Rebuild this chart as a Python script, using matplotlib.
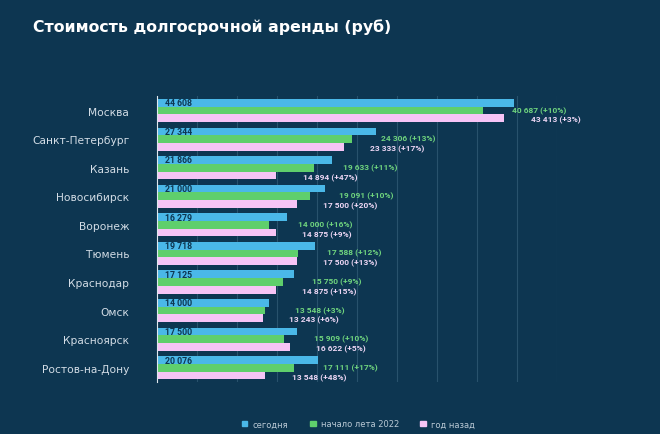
import matplotlib
matplotlib.use("Agg")
import matplotlib.pyplot as plt
import numpy as np
from matplotlib.patches import Patch

cities = ['Москва', 'Санкт-Петербург', 'Казань', 'Новосибирск', 'Воронеж',
          'Тюмень', 'Краснодар', 'Омск', 'Красноярск', 'Ростов-на-Дону']
today = [44608, 27344, 21866, 21000, 16279, 19718, 17125, 14000, 17500, 20076]
summer = [40687, 24306, 19633, 19091, 14000, 17588, 15750, 13548, 15909, 17111]
summer_pct = [10, 13, 11, 10, 16, 12, 9, 3, 10, 17]
year_ago = [43413, 23333, 14894, 17500, 14875, 17500, 14875, 13243, 16622, 13548]
year_pct = [3, 17, 47, 20, 9, 13, 15, 6, 5, 48]
series_names = ['сегодня', 'начало лета 2022', 'год назад']
title = 'Стоимость долгосрочной аренды (руб)'

BG = '#0d3651'
BLUE = '#4ab8e8'
GREEN = '#5fcf6c'
PINK = '#f6c4f6'
GREEN_TXT = '#6fd47e'
PINK_TXT = '#ecd6f4'
LABEL = '#d3dde6'

plt.rcParams['font.family'] = ['DejaVu Sans']
VAL_FONT = ['Roboto', 'DejaVu Sans']

def fmt(v):
    return f'{v:,}'.replace(',', ' ')

fig = plt.figure(figsize=(6.6, 4.35), dpi=100, facecolor=BG)
ax = fig.add_axes([0.238, 0.1195, 0.606, 0.657], facecolor=BG)

y = np.arange(len(cities))
h = 0.27
ax.barh(y - h, today, height=h, color=BLUE, zorder=3)
ax.barh(y, summer, height=h, color=GREEN, zorder=3)
ax.barh(y + h, year_ago, height=h, color=PINK, zorder=3)

ax.set_xlim(0, 50000)
ax.set_ylim(len(cities) - 0.5, -0.5)
ax.set_xticks(np.arange(0, 50001, 5000))
ax.xaxis.grid(True, color='#28526c', linewidth=0.8, zorder=0)
ax.tick_params(axis='x', length=0, labelbottom=False)
ax.tick_params(axis='y', length=0, pad=20, labelsize=7.7, labelcolor=LABEL)
ax.set_yticks(y)
ax.set_yticklabels(cities)
for s in ['top', 'right', 'bottom']:
    ax.spines[s].set_visible(False)
ax.spines['left'].set_color('#dfe8ee')
ax.spines['left'].set_linewidth(0.8)
ax.spines['left'].set_zorder(4)

for i in range(len(cities)):
    ax.annotate(fmt(today[i]), xy=(0, y[i] - h), xytext=(6, 0), textcoords='offset points',
                va='center', ha='left', fontsize=6.3, fontweight='bold', color=BG, zorder=5,
                family=VAL_FONT)
    ax.annotate(f'{fmt(summer[i])} (+{summer_pct[i]}%)', xy=(summer[i], y[i]),
                xytext=(21, 0.5), textcoords='offset points', va='center', ha='left',
                fontsize=6.0, fontweight='bold', color=GREEN_TXT, zorder=5, family=VAL_FONT)
    ax.annotate(f'{fmt(year_ago[i])} (+{year_pct[i]}%)', xy=(year_ago[i], y[i] + h),
                xytext=(19, -1.0), textcoords='offset points', va='center', ha='left',
                fontsize=6.0, fontweight='bold', color=PINK_TXT, zorder=5, family=VAL_FONT)

fig.text(33 / 660, 1 - 27 / 435, title, color='white', fontsize=11.3, fontweight='heavy',
         ha='left', va='center')

handles = [Patch(color=c) for c in (BLUE, GREEN, PINK)]
leg = fig.legend(handles, series_names, loc='center', bbox_to_anchor=(0.543, 0.023),
                 ncol=3, frameon=False, fontsize=6, labelcolor='#b9c9d5',
                 handlelength=0.7, handleheight=0.7, handletextpad=0.6, columnspacing=2.6)

fig.savefig('out.png', dpi=100, facecolor=BG)
